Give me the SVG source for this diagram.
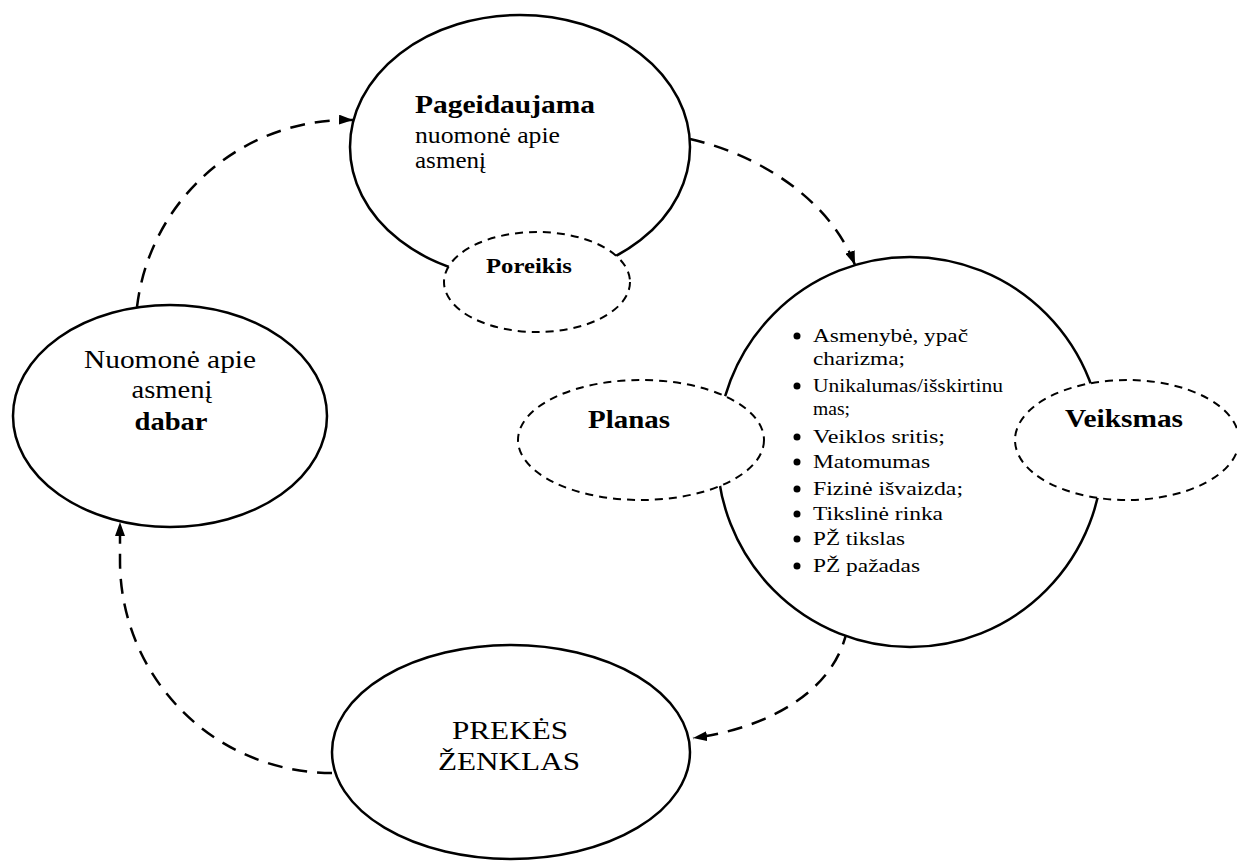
<svg xmlns="http://www.w3.org/2000/svg" width="1237" height="862" viewBox="0 0 1237 862">
  <style>
    .node { fill: #fff; stroke: #000; stroke-width: 2.5; }
    .sub { fill: #fff; stroke: #000; stroke-width: 2; stroke-dasharray: 8 6; }
    .flow { fill: none; stroke: #000; stroke-width: 2.5; stroke-dasharray: 15 10; }
    text { font-family: "Liberation Serif", "Times New Roman", serif; fill: #000; }
    .b { font-weight: bold; }
    .mid { text-anchor: middle; }
    .item { font-size: 19px; }
  </style>
  <defs>
    <marker id="arrow" viewBox="0 0 14 10" refX="14" refY="5" markerWidth="14" markerHeight="10" markerUnits="userSpaceOnUse" orient="auto">
      <path d="M0,0 L14,5 L0,10 Z" fill="#000"/>
    </marker>
  </defs>
  <rect width="1237" height="862" fill="#fff"/>

  <!-- cycle connectors -->
  <g id="connectors">
    <path class="flow" d="M137,307 A212,212 0 0 1 353,120" marker-end="url(#arrow)"/>
    <path class="flow" d="M690,139 C760,155 830,200 855,265" marker-end="url(#arrow)"/>
    <path class="flow" d="M847,630 C835,690 770,728 693,738" marker-end="url(#arrow)"/>
    <path class="flow" d="M332,773 A212,212 0 0 1 120,561 L120,522" marker-end="url(#arrow)"/>
  </g>

  <g id="desired">
    <ellipse class="node" cx="520" cy="147" rx="170" ry="132"/>
    <text class="b" x="415" y="113" font-size="26" textLength="180" lengthAdjust="spacingAndGlyphs">Pageidaujama</text>
    <text x="415" y="143" font-size="24" textLength="145" lengthAdjust="spacingAndGlyphs">nuomonė apie</text>
    <text x="415" y="168" font-size="24" textLength="71" lengthAdjust="spacingAndGlyphs">asmenį</text>
  </g>

  <g id="need">
    <ellipse class="sub" cx="537" cy="282" rx="93" ry="50"/>
    <text class="b mid" x="529" y="273" font-size="21" textLength="86" lengthAdjust="spacingAndGlyphs">Poreikis</text>
  </g>

  <g id="current">
    <ellipse class="node" cx="170" cy="416" rx="157" ry="111"/>
    <text class="mid" x="170" y="368" font-size="25" textLength="172" lengthAdjust="spacingAndGlyphs">Nuomonė apie</text>
    <text class="mid" x="172" y="398" font-size="25" textLength="81" lengthAdjust="spacingAndGlyphs">asmenį</text>
    <text class="b mid" x="171" y="430" font-size="25" textLength="73" lengthAdjust="spacingAndGlyphs">dabar</text>
  </g>

  <g id="components">
    <ellipse class="node" cx="910" cy="452" rx="193" ry="195"/>
    <g id="component-list">
      <circle cx="797" cy="336" r="3.5"/>
      <text class="item" x="813" y="342" textLength="155" lengthAdjust="spacingAndGlyphs">Asmenybė, ypač</text>
      <text class="item" x="813" y="365" textLength="92" lengthAdjust="spacingAndGlyphs">charizma;</text>
      <circle cx="797" cy="386" r="3.5"/>
      <text class="item" x="813" y="392" textLength="190" lengthAdjust="spacingAndGlyphs">Unikalumas/išskirtinu</text>
      <text class="item" x="813" y="415" textLength="37" lengthAdjust="spacingAndGlyphs">mas;</text>
      <circle cx="797" cy="437" r="3.5"/>
      <text class="item" x="813" y="443" textLength="132" lengthAdjust="spacingAndGlyphs">Veiklos sritis;</text>
      <circle cx="797" cy="462" r="3.5"/>
      <text class="item" x="813" y="468" textLength="117" lengthAdjust="spacingAndGlyphs">Matomumas</text>
      <circle cx="797" cy="489" r="3.5"/>
      <text class="item" x="813" y="495" textLength="150" lengthAdjust="spacingAndGlyphs">Fizinė išvaizda;</text>
      <circle cx="797" cy="514" r="3.5"/>
      <text class="item" x="813" y="520" textLength="130" lengthAdjust="spacingAndGlyphs">Tikslinė rinka</text>
      <circle cx="797" cy="539" r="3.5"/>
      <text class="item" x="813" y="545" textLength="92" lengthAdjust="spacingAndGlyphs">PŽ tikslas</text>
      <circle cx="797" cy="566" r="3.5"/>
      <text class="item" x="813" y="572" textLength="107" lengthAdjust="spacingAndGlyphs">PŽ pažadas</text>
    </g>
  </g>

  <g id="plan">
    <ellipse class="sub" cx="641" cy="440" rx="123" ry="60"/>
    <text class="b mid" x="629" y="428" font-size="25" textLength="82" lengthAdjust="spacingAndGlyphs">Planas</text>
  </g>

  <g id="action">
    <ellipse class="sub" cx="1127" cy="440" rx="112" ry="60"/>
    <text class="b mid" x="1124" y="427" font-size="25" textLength="118" lengthAdjust="spacingAndGlyphs">Veiksmas</text>
  </g>

  <g id="brand">
    <ellipse class="node" cx="511" cy="752" rx="179" ry="107"/>
    <text class="mid" x="510" y="739" font-size="26" textLength="116" lengthAdjust="spacingAndGlyphs">PREKĖS</text>
    <text class="mid" x="509" y="770" font-size="26" textLength="142" lengthAdjust="spacingAndGlyphs">ŽENKLAS</text>
  </g>
</svg>
